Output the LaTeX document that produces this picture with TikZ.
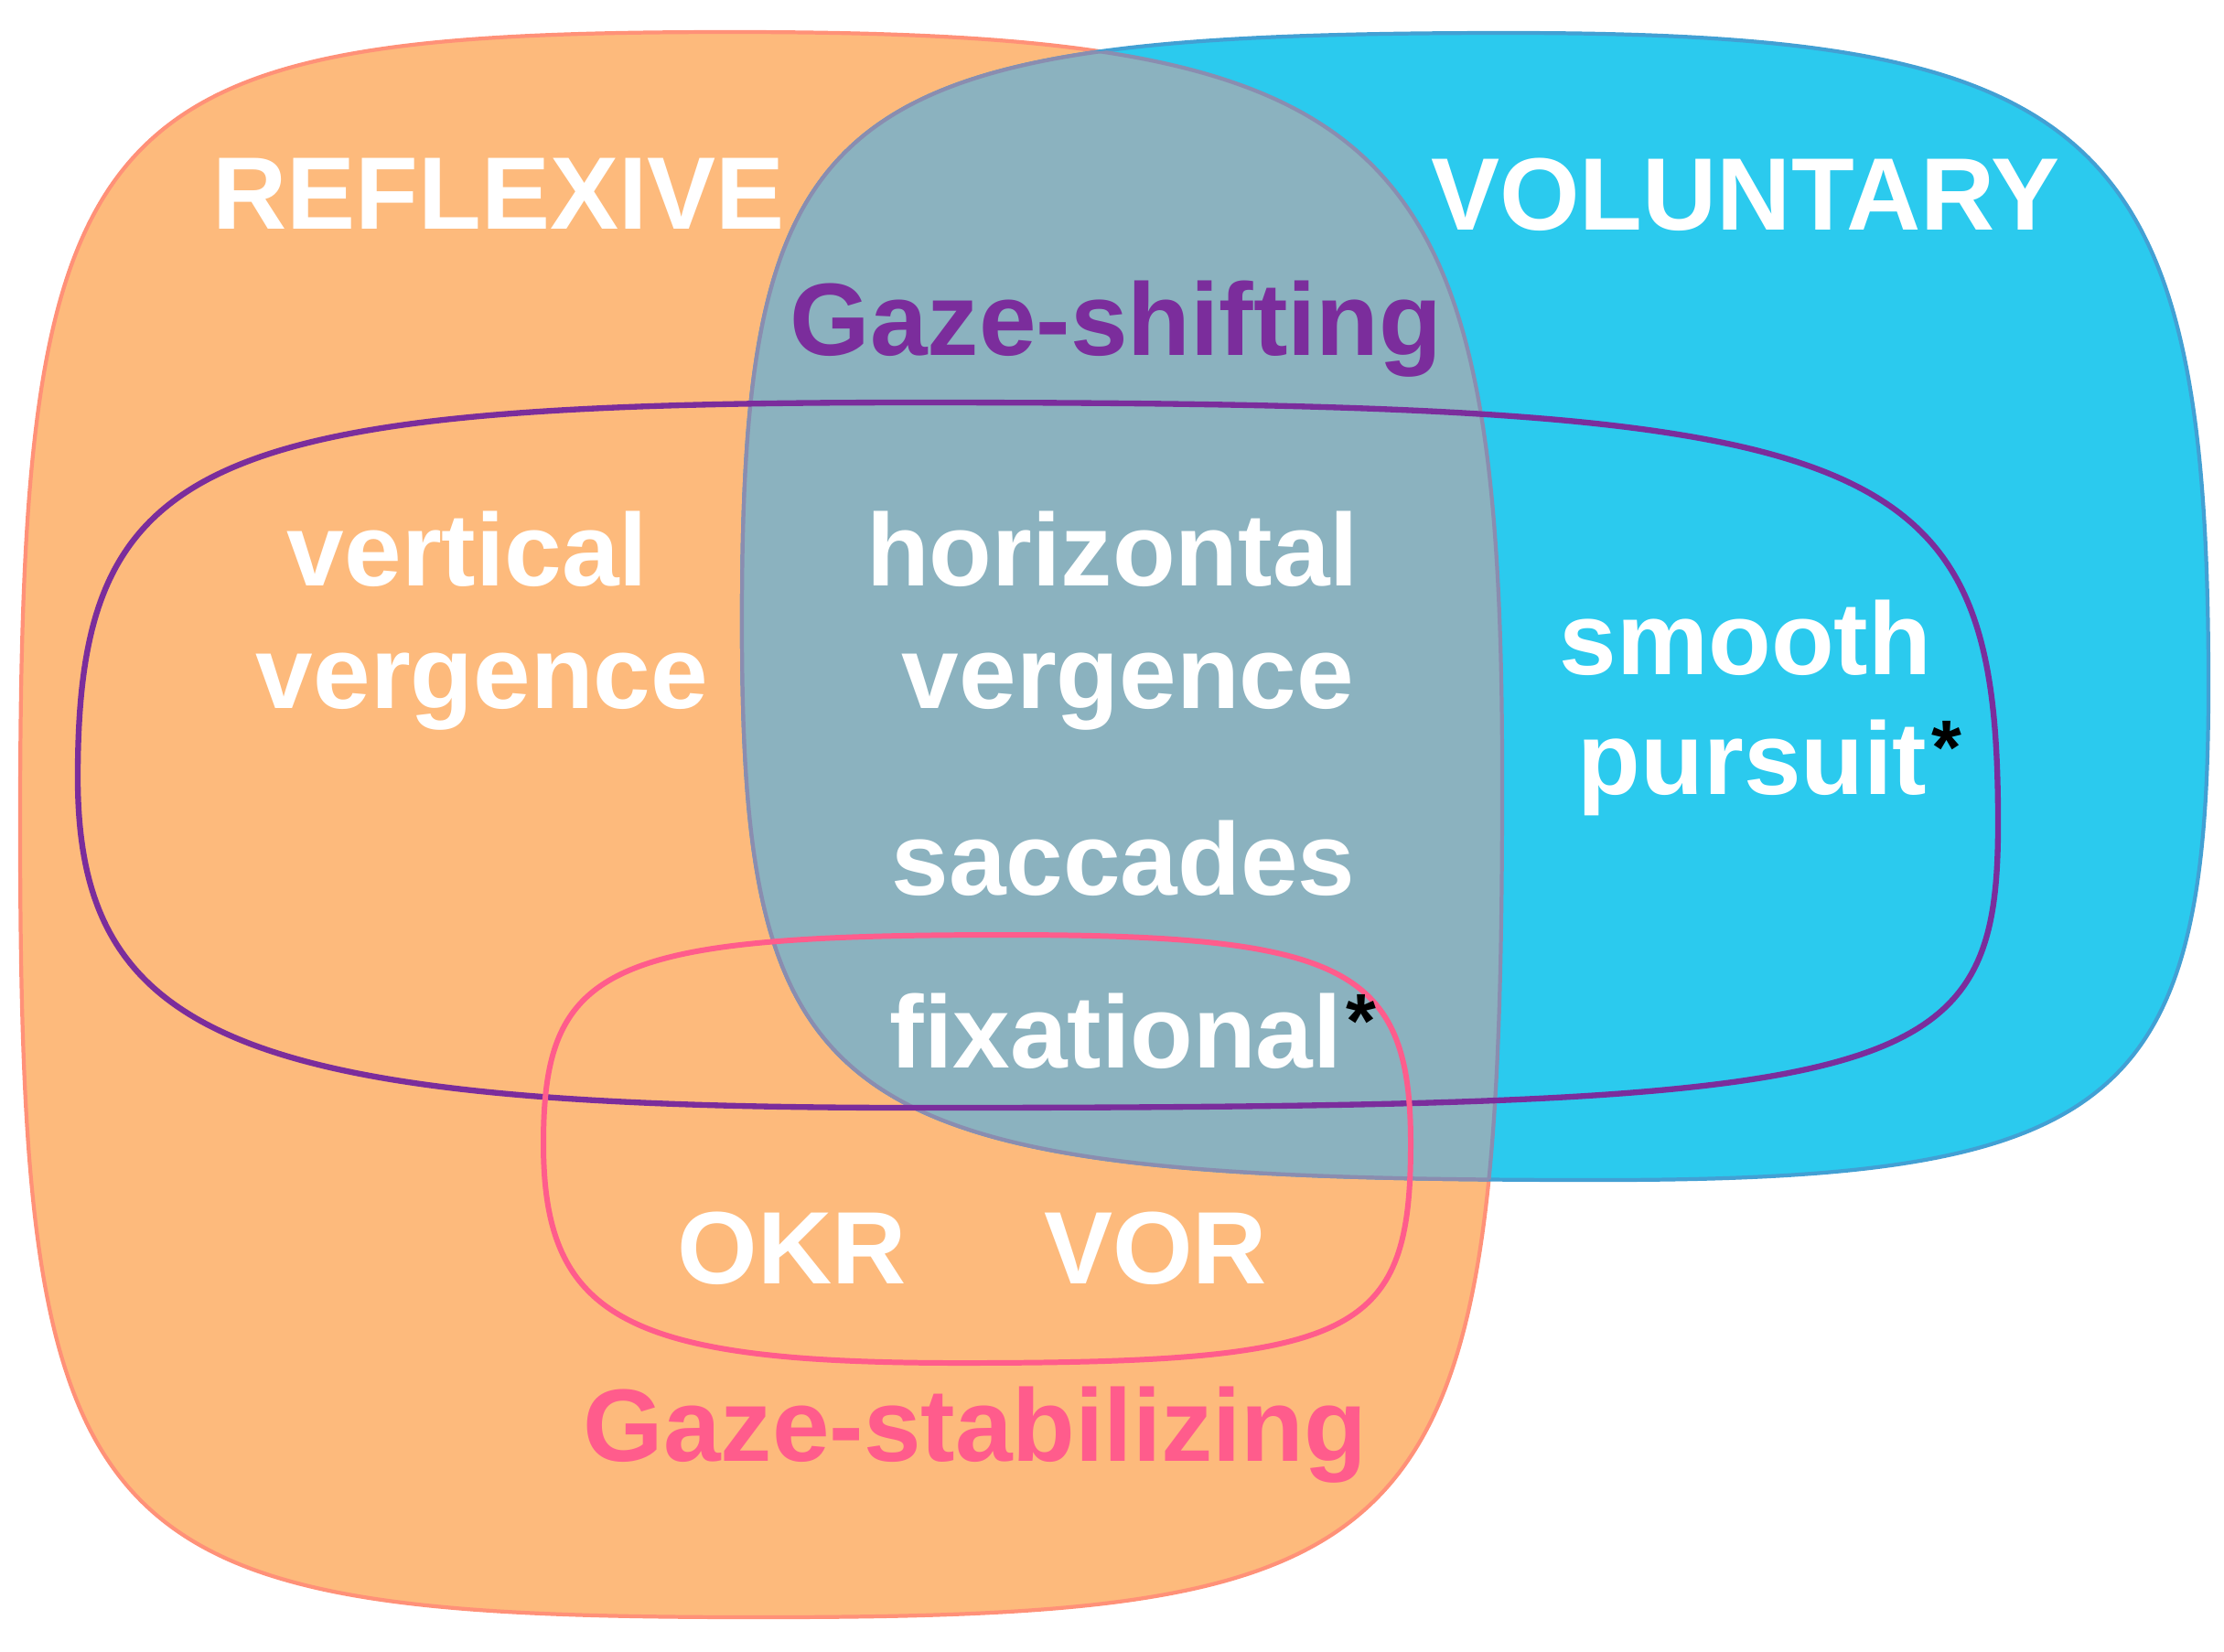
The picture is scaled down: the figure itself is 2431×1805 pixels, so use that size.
\documentclass[tikz,border=0pt]{standalone}
\usepackage{fontspec}
\setmainfont{Liberation Sans}
\definecolor{cOrF}{HTML}{FDBA7C}
\definecolor{cOrL}{HTML}{FF9178}
\definecolor{cBlF}{HTML}{2BCAEE}
\definecolor{cBlL}{HTML}{42A0D4}
\definecolor{cGrF}{HTML}{8BB2BF}
\definecolor{cInt}{HTML}{8A8DB0}
\definecolor{cPurple}{HTML}{7B2D9C}
\definecolor{cPink}{HTML}{FF5C8C}
\newcommand{\gazestar}{{\kern1.5pt\color{black}\raisebox{6pt}{\fontsize{24pt}{24pt}\selectfont *}}}
\tikzset{
  oshape/.style={insert path={(22,900) .. controls (22,113) and (92,35) .. (800,35)
     .. controls (1533,35) and (1642,141) .. (1642,850)
     .. controls (1642,1695) and (1577,1768) .. (830,1768)
     .. controls (87,1768) and (22,1699) .. (22,900) -- cycle}},
  bshape/.style={insert path={(811,680) .. controls (811,107) and (903,36) .. (1650,36)
     .. controls (2299,36) and (2414,143) .. (2414,750)
     .. controls (2414,1209) and (2314,1290) .. (1750,1290)
     .. controls (905,1290) and (811,1229) .. (811,680) -- cycle}},
  pshape/.style={insert path={(85,850) .. controls (85,500) and (215,440) .. (1000,440)
     .. controls (2066,440) and (2184,486) .. (2184,900)
     .. controls (2184,1186) and (2089,1211) .. (1000,1211)
     .. controls (268,1211) and (85,1139) .. (85,850) -- cycle}},
  kshape/.style={insert path={(594,1250) .. controls (594,1054) and (665,1022) .. (1100,1022)
     .. controls (1471,1022) and (1542,1058) .. (1542,1250)
     .. controls (1542,1461) and (1483,1490) .. (1050,1490)
     .. controls (685,1490) and (594,1442) .. (594,1250) -- cycle}},
  lbl/.style={font=\bfseries\fontsize{32pt}{38pt}\selectfont, inner sep=0pt, text=white, anchor=base},
  lblw/.style={lbl, anchor=base west},
}
\begin{document}
\begin{tikzpicture}[x=0.01cm,y=-0.01cm]
\useasboundingbox (0,0) rectangle (2431,1805);
\fill[white] (0,0) rectangle (2431,1805);
% sets
\path[fill=cOrF, draw=cOrL, line width=1.2pt, oshape];
\path[fill=cBlF, draw=cBlL, line width=1.2pt, bshape];
\begin{scope}
  \clip[oshape];
  \path[fill=cGrF, draw=cInt, line width=1.2pt, bshape];
\end{scope}
\begin{scope}
  \clip[bshape];
  \path[draw=cInt, line width=1.2pt, oshape];
\end{scope}
% groups
\path[draw=cPurple, line width=1.8pt, pshape];
\path[draw=cPink, line width=1.7pt, kshape];
% labels
\node[lbl] (reflexive) at (545,250) {REFLEXIVE};
\node[lbl] (voluntary) at (1908,251) {VOLUNTARY};
\node[lbl, text=cPurple] (gshift) at (1220,388) {Gaze-shifting};
\node[lbl] (vert1) at (511,640) {vertical};
\node[lbl] (vert2) at (527,774) {vergence};
\node[lbl] (hor1) at (1216,640) {horizontal};
\node[lbl] (hor2) at (1233,774) {vergence};
\node[lbl] (sacc) at (1228,978) {saccades};
\node[lblw] (fix) at (972,1167) {fixational\gazestar};
\node[lbl] (smooth) at (1908,737) {smooth};
\node[lblw] (pursuit) at (1724,868) {pursuit\gazestar};
\node[lbl] (okr) at (866,1403) {OKR};
\node[lbl] (vor) at (1263,1403) {VOR};
\node[lbl, text=cPink] (gstab) at (1066,1597) {Gaze-stabilizing};
\end{tikzpicture}
\end{document}
